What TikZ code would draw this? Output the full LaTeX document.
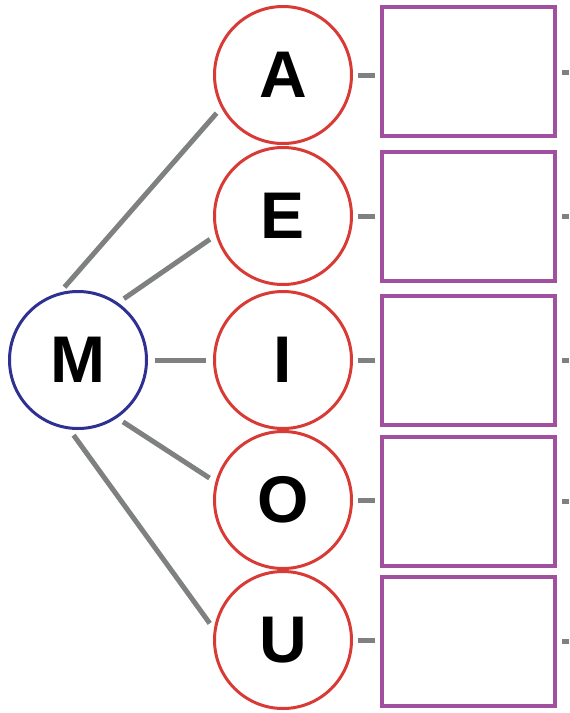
\documentclass[tikz,border=0pt]{standalone}
\usepackage{fontspec}
\setmainfont{Liberation Sans}
\usepackage{tikz}

\definecolor{vowelred}{HTML}{D83A36}
\definecolor{rootblue}{HTML}{2E3192}
\definecolor{boxpurple}{HTML}{A0509E}
\definecolor{linkgray}{HTML}{7F8080}

\begin{document}
\begin{tikzpicture}[x=0.5pt, y=-0.5pt,
    letter/.style={circle, draw, line width=1.5pt, minimum size=68.5pt, inner sep=0pt,
      font=\fontsize{33}{33}\selectfont\bfseries},
    vowel/.style={letter, draw=vowelred},
    answer/.style={draw=boxpurple, line width=2pt, minimum width=86.5pt, minimum height=64.5pt, inner sep=0pt},
    link/.style={draw=linkgray, line width=2.5pt, shorten <=3.5pt, shorten >=3.5pt},
    stub/.style={link, shorten <=2.5pt, shorten >=2.5pt}]
    \useasboundingbox (0,0) rectangle (569,713);
    % Root letter on the left
    \node[letter, draw=rootblue] (M) at (78,360) {M};
    % Column of vowels
    \node[vowel] (A) at (283,75) {A};
    \node[vowel] (E) at (283,216) {E};
    \node[vowel] (I) at (283,360) {I};
    \node[vowel] (O) at (283,500) {O};
    \node[vowel] (U) at (283,640) {U};
    % Empty boxes to write in
    \node[answer] (bA) at (468.5,71.5) {};
    \node[answer] (bE) at (468.5,216.5) {};
    \node[answer] (bI) at (468.5,360.5) {};
    \node[answer] (bO) at (468.5,501.5) {};
    \node[answer] (bU) at (468.5,641.5) {};
    % Loose ends at the right edge
    \coordinate (eA) at (569,72);
    \coordinate (eE) at (569,216);
    \coordinate (eI) at (569,360);
    \coordinate (eO) at (569,501);
    \coordinate (eU) at (569,641);
    % Links from M to the vowels
    \draw[link] (M.105) -- (A.208);
    \draw[link] (M.55) -- (E.196);
    \draw[link] (M.0) -- (I.180);
    \draw[link] (M.-56) -- (O.165);
    \draw[link] (M.-97) -- (U.171);
    % Short stubs next to the boxes
    \draw[stub] (A.east) -- (A.east -| bA.west);
    \draw[stub] (E.east) -- (E.east -| bE.west);
    \draw[stub] (I.east) -- (I.east -| bI.west);
    \draw[stub] (O.east) -- (O.east -| bO.west);
    \draw[stub] (U.east) -- (U.east -| bU.west);
    \draw[stub, shorten >=0pt] (eA -| bA.east) -- (eA);
    \draw[stub, shorten >=0pt] (eE -| bE.east) -- (eE);
    \draw[stub, shorten >=0pt] (eI -| bI.east) -- (eI);
    \draw[stub, shorten >=0pt] (eO -| bO.east) -- (eO);
    \draw[stub, shorten >=0pt] (eU -| bU.east) -- (eU);
\end{tikzpicture}
\end{document}
